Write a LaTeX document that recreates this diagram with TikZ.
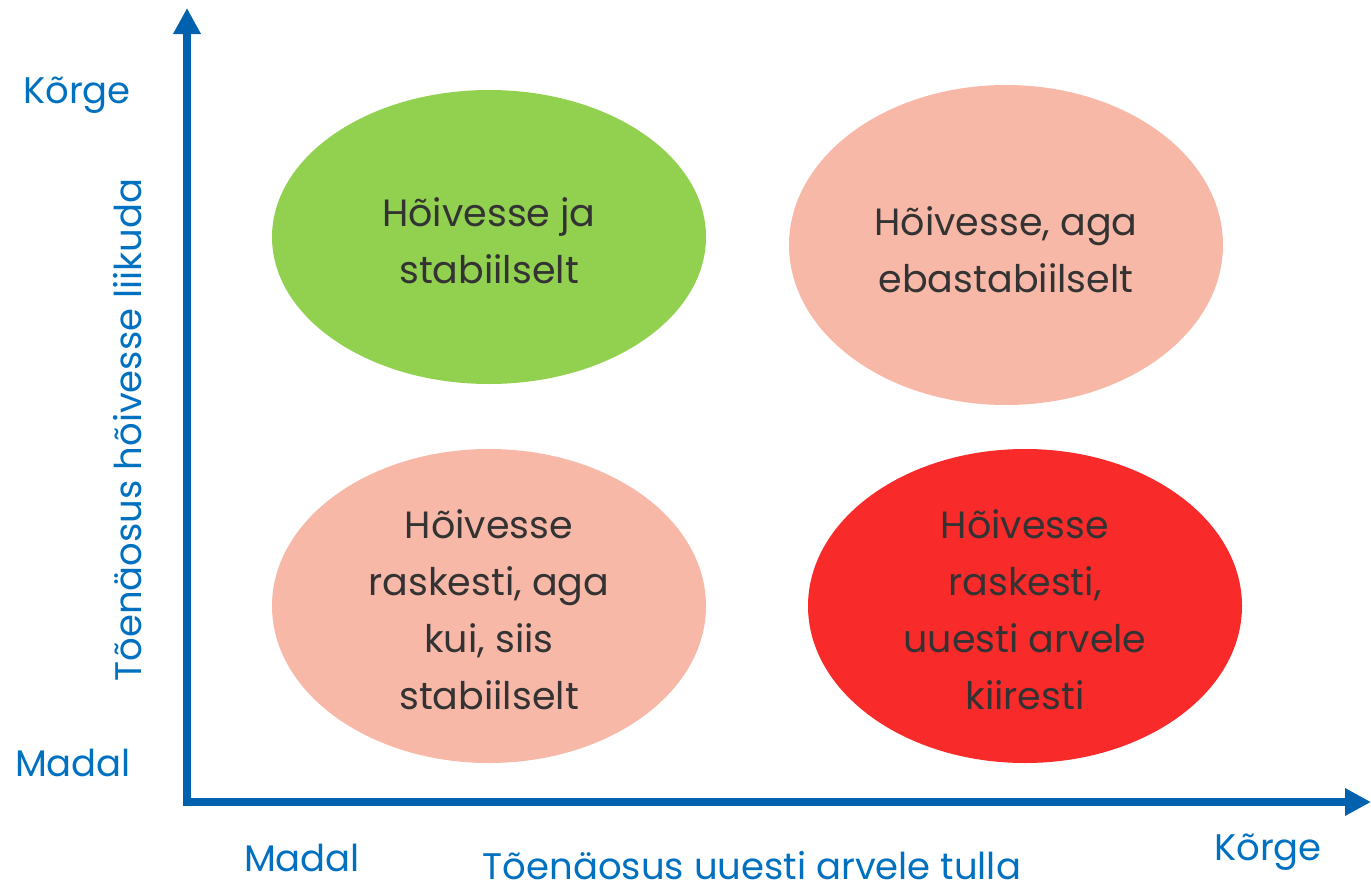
\documentclass[tikz,border=0pt]{standalone}
\usepackage{fontspec}
\setmainfont{Poppins}
\usetikzlibrary{arrows.meta}
\definecolor{axisblue}{HTML}{0062AE}
\definecolor{lblblue}{HTML}{0070C0}
\definecolor{txtgray}{HTML}{333333}
\definecolor{cgreen}{HTML}{92D050}
\definecolor{cpink}{HTML}{F8B8A8}
\definecolor{cred}{HTML}{F92A2A}
\tikzset{
  axis/.style={line width=8pt, draw=axisblue, -{Triangle[length=26pt,width=26pt]}},
  intext/.style={text=txtgray, font=\fontsize{38}{57}\selectfont, align=center},
  lbl/.style={text=lblblue, font=\fontsize{37}{44}\selectfont},
}
\begin{document}
\begin{tikzpicture}[x=1pt,y=-1pt]
\useasboundingbox (0,0) rectangle (1371,894);
\fill[cgreen] (489,237) ellipse [x radius=217, y radius=147];
\fill[cpink] (1006,245) ellipse [x radius=217, y radius=160];
\fill[cpink] (489,606) ellipse [x radius=217, y radius=157];
\fill[cred] (1025,606) ellipse [x radius=217, y radius=157];
\coordinate (o) at (187,802);
\coordinate (ytip) at (187,8);
\coordinate (xtip) at (1371,802);
\draw[axis] ([yshift=4pt]o) -- (ytip);
\draw[axis] ([xshift=-4pt]o) -- (xtip);
\node[intext] (a) at (489,241) {Hõivesse ja\\stabiilselt};
\node[intext] (b) at (1006,250) {Hõivesse, aga\\ebastabiilselt};
\node[intext] (c) at (489,610) {Hõivesse\\raskesti, aga\\kui, siis\\stabiilselt};
\node[intext] (d) at (1025,610) {Hõivesse\\raskesti,\\uuesti arvele\\kiiresti};
\node[lbl] (hy) at (77,95) {Kõrge};
\node[lbl] (ly) at (73,763) {Madal};
\node[lbl] (lx) at (302,858) {Madal};
\node[lbl] (hx) at (1268,852) {Kõrge};
\node[lbl] (tx) at (752,866) {Tõenäosus uuesti arvele tulla};
\node[lbl, rotate=90] (ty) at (128,430) {Tõenäosus hõivesse liikuda};
\end{tikzpicture}
\end{document}
